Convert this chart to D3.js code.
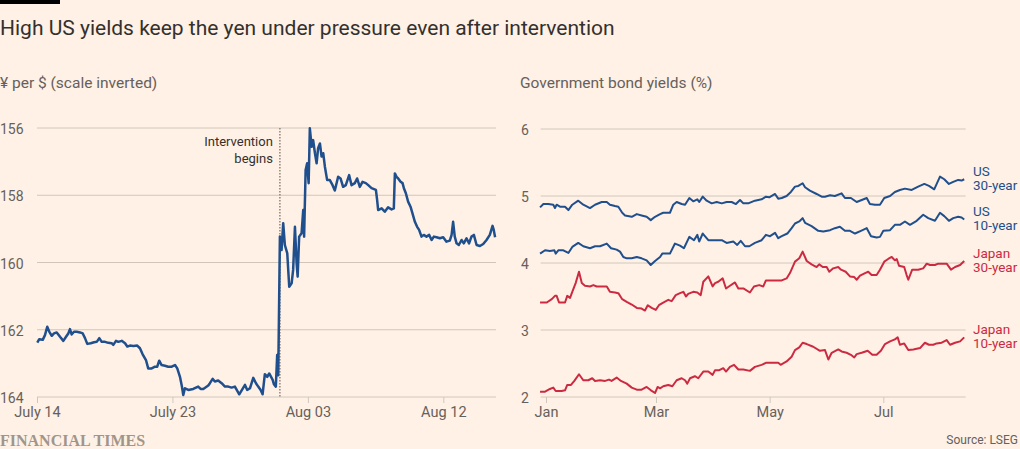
<!DOCTYPE html>
<html><head><meta charset="utf-8">
<script src="https://cdn.jsdelivr.net/npm/d3@7"></script>
<style>
body{margin:0;background:#fff1e5;}
svg{display:block;}
text{font-family:Roboto, "Noto Sans", sans-serif;}
text.ft{font-family:"Liberation Serif","DejaVu Serif",serif;font-weight:bold;}
</style></head><body><svg id="c" width="1020" height="449"></svg>
<script>
// ---------- DATA ----------
const titleText = "High US yields keep the yen under pressure even after intervention";
const leftSubtitle = "¥ per $ (scale inverted)";
const rightSubtitle = "Government bond yields (%)";
const sourceText = "Source: LSEG";

// Left panel: yen per dollar, time in days since July 14
const fxTicks = [0, 9, 18, 27];
const fxTickLabels = ["July 14", "July 23", "Aug 03", "Aug 12"];
const fxYTicks = [156, 158, 160, 162, 164];
const interventionT = 16.14;
const interventionLabel = ["Intervention", "begins"];
const fxT = [0.02,0.15,0.38,0.53,0.68,0.82,0.98,1.13,1.31,1.53,1.75,1.93,2.08,2.19,2.30,2.46,2.64,2.86,3.04,3.19,3.34,3.57,3.79,3.97,4.14,4.30,4.52,4.74,4.96,5.07,5.25,5.40,5.63,5.85,6.00,6.18,6.40,6.66,6.84,7.02,7.24,7.39,7.62,7.84,7.99,8.12,8.28,8.50,8.72,8.95,9.17,9.32,9.50,9.63,9.72,9.83,10.05,10.38,10.71,10.87,11.05,11.38,11.49,11.67,11.82,12.04,12.27,12.49,12.71,12.93,13.15,13.44,13.66,13.82,13.97,14.15,14.37,14.55,14.70,14.86,14.99,15.14,15.30,15.43,15.66,15.74,15.87,15.96,16.03,16.09,16.14,16.25,16.36,16.47,16.63,16.76,16.92,17.02,17.14,17.25,17.32,17.42,17.58,17.69,17.75,17.85,17.95,18.05,18.13,18.25,18.35,18.47,18.58,18.68,18.80,18.91,19.02,19.13,19.28,19.46,19.64,19.79,20.01,20.17,20.34,20.52,20.74,20.90,21.12,21.27,21.45,21.63,21.85,22.01,22.23,22.52,22.60,22.67,22.90,23.11,23.33,23.56,23.71,23.78,23.89,24.00,24.16,24.29,24.38,24.51,24.66,24.82,24.95,25.11,25.26,25.39,25.55,25.70,25.88,26.06,26.22,26.37,26.55,26.77,26.99,27.21,27.43,27.55,27.65,27.76,27.88,28.03,28.21,28.36,28.54,28.71,28.87,29.03,29.21,29.43,29.65,29.87,30.09,30.27,30.35,30.44];
const fxV = [162.38,162.28,162.30,162.16,161.91,162.06,162.18,162.11,162.08,162.21,162.33,162.21,162.11,161.98,162.14,162.06,162.06,162.08,162.11,162.25,162.42,162.40,162.37,162.36,162.25,162.36,162.36,162.39,162.40,162.45,162.33,162.36,162.33,162.40,162.50,162.47,162.48,162.47,162.55,162.73,162.90,163.15,163.15,163.10,163.10,162.92,163.05,163.07,163.10,163.10,163.05,163.15,163.40,163.69,163.94,163.74,163.79,163.76,163.69,163.76,163.76,163.66,163.59,163.46,163.54,163.51,163.59,163.69,163.69,163.72,163.69,163.92,163.76,163.64,163.79,163.74,163.43,163.59,163.69,163.79,163.92,163.32,163.40,163.30,163.49,163.62,163.69,162.75,163.35,161.12,159.23,159.63,158.83,159.48,159.73,160.72,160.62,160.22,158.94,160.02,160.42,159.23,159.13,158.44,159.23,157.25,157.05,157.64,156.01,156.56,156.36,156.75,157.05,156.60,156.46,156.85,156.75,157.15,157.55,157.55,157.70,157.86,157.45,157.50,157.75,157.70,157.40,157.70,157.64,157.50,157.75,157.60,157.64,157.70,157.79,157.84,158.14,158.44,158.39,158.49,158.36,158.42,158.39,157.35,157.45,157.50,157.60,157.64,157.79,157.94,158.19,158.34,158.54,158.79,158.94,159.03,159.23,159.18,159.23,159.18,159.33,159.23,159.25,159.28,159.25,159.38,159.35,159.18,158.79,159.23,159.43,159.48,159.33,159.43,159.28,159.43,159.23,159.18,159.48,159.51,159.45,159.33,159.18,158.91,159.03,159.25];

// Right panel: bond yields, [days since Jan 1, yield %]
const bondYTicks = [2, 3, 4, 5, 6];
const seriesNames = [["US", "30-year"], ["US", "10-year"], ["Japan", "30-year"], ["Japan", "10-year"]];
const us30 = [[-3.2,4.83],[-1.4,4.88],[1.2,4.88],[3.9,4.87],[4.8,4.82],[5.7,4.87],[7.5,4.84],[10.2,4.84],[12.0,4.79],[14.1,4.87],[17.3,4.93],[20.0,4.87],[23.6,4.82],[26.3,4.87],[29.9,4.91],[32.6,4.91],[34.3,4.87],[37.0,4.85],[38.8,4.84],[40.9,4.75],[42.4,4.71],[46.0,4.69],[48.7,4.73],[51.3,4.71],[54.0,4.69],[56.2,4.64],[58.5,4.69],[61.2,4.73],[62.9,4.75],[66.5,4.75],[68.3,4.87],[70.1,4.91],[72.8,4.88],[74.6,4.87],[76.9,4.97],[79.0,4.92],[81.2,4.95],[82.2,4.91],[84.1,4.99],[86.2,4.93],[88.9,4.89],[91.6,4.91],[94.3,4.89],[96.9,4.91],[99.6,4.91],[101.9,4.88],[104.1,4.94],[105.9,4.89],[108.5,4.89],[112.1,4.93],[115.7,4.95],[118.0,4.99],[119.8,4.98],[122.9,5.03],[124.6,4.96],[126.5,4.97],[129.1,5.00],[131.4,5.06],[133.6,5.14],[135.4,5.15],[137.7,5.19],[139.0,5.13],[141.6,5.08],[145.2,5.03],[147.9,4.99],[149.7,4.99],[152.4,5.01],[155.0,5.00],[158.6,5.04],[160.4,4.97],[163.6,4.97],[166.7,4.91],[169.4,4.94],[172.1,4.97],[173.8,4.88],[176.5,4.87],[179.2,4.87],[181.5,4.97],[184.6,5.00],[187.2,5.06],[189.9,5.09],[192.6,5.11],[196.2,5.09],[199.7,5.14],[203.0,5.18],[205.5,5.15],[208.3,5.10],[211.4,5.29],[213.7,5.25],[216.2,5.18],[218.5,5.21],[221.2,5.24],[223.0,5.23],[224.4,5.25]];
const us10 = [[-3.2,4.14],[-0.5,4.19],[2.1,4.18],[4.5,4.19],[5.2,4.14],[6.6,4.19],[9.3,4.19],[12.0,4.15],[14.1,4.24],[17.3,4.30],[20.0,4.25],[23.6,4.22],[26.3,4.25],[29.0,4.25],[32.6,4.29],[34.9,4.22],[37.9,4.20],[39.7,4.17],[41.5,4.09],[43.3,4.07],[46.0,4.07],[48.7,4.09],[51.3,4.07],[54.0,4.04],[56.2,3.97],[58.5,4.03],[61.2,4.09],[62.4,4.14],[66.5,4.14],[69.2,4.29],[71.9,4.26],[74.0,4.22],[76.9,4.39],[79.4,4.34],[81.2,4.42],[82.2,4.32],[84.1,4.44],[87.1,4.34],[89.8,4.34],[94.3,4.34],[96.9,4.30],[100.5,4.32],[102.6,4.27],[104.5,4.33],[106.8,4.25],[109.1,4.25],[112.1,4.30],[115.7,4.34],[118.0,4.42],[120.2,4.40],[122.9,4.45],[124.6,4.37],[126.5,4.40],[129.5,4.44],[131.8,4.52],[133.6,4.59],[135.9,4.62],[137.7,4.67],[139.0,4.60],[142.5,4.55],[146.1,4.48],[148.8,4.47],[152.4,4.49],[155.0,4.52],[157.7,4.54],[160.4,4.48],[163.1,4.48],[165.8,4.44],[169.0,4.48],[172.1,4.52],[174.4,4.40],[177.4,4.38],[179.2,4.39],[181.0,4.48],[184.6,4.49],[187.2,4.57],[189.9,4.57],[192.6,4.62],[195.3,4.57],[198.9,4.63],[202.4,4.72],[205.1,4.67],[208.7,4.63],[211.4,4.75],[213.7,4.70],[216.2,4.63],[218.5,4.67],[221.2,4.69],[223.0,4.68],[224.4,4.65]];
const jp30 = [[-3.2,3.41],[0.4,3.41],[3.1,3.46],[4.8,3.51],[5.7,3.51],[7.0,3.41],[10.2,3.41],[11.4,3.51],[12.9,3.48],[14.1,3.57],[15.9,3.70],[17.7,3.87],[19.2,3.70],[20.9,3.66],[23.6,3.65],[25.4,3.67],[27.2,3.65],[29.9,3.65],[32.6,3.65],[34.3,3.57],[37.0,3.56],[38.8,3.55],[40.9,3.46],[43.3,3.42],[46.0,3.38],[48.7,3.33],[51.3,3.32],[53.1,3.29],[54.6,3.37],[56.7,3.33],[58.9,3.30],[60.6,3.37],[62.9,3.41],[65.6,3.45],[67.4,3.43],[69.6,3.52],[71.9,3.55],[73.7,3.57],[75.1,3.50],[76.3,3.54],[79.0,3.57],[81.2,3.56],[83.0,3.52],[84.4,3.72],[87.1,3.80],[89.4,3.65],[90.7,3.70],[92.4,3.72],[94.8,3.77],[96.6,3.62],[98.7,3.66],[101.4,3.71],[103.2,3.62],[105.9,3.62],[109.4,3.56],[111.6,3.65],[114.4,3.67],[116.6,3.65],[118.0,3.74],[121.1,3.74],[126.5,3.74],[129.1,3.77],[130.9,3.85],[133.6,4.02],[135.9,4.07],[137.7,4.17],[139.9,4.03],[142.5,3.98],[145.2,3.94],[146.6,3.98],[148.5,3.94],[150.6,3.94],[152.0,3.87],[154.1,3.92],[156.8,3.94],[158.3,3.90],[160.8,3.87],[163.1,3.80],[165.4,3.79],[166.7,3.75],[168.5,3.81],[171.2,3.85],[172.9,3.87],[174.7,3.82],[177.4,3.82],[179.2,3.90],[181.5,4.02],[183.6,4.06],[185.5,4.09],[187.2,4.04],[188.2,4.06],[189.4,3.96],[192.2,3.94],[193.5,3.82],[194.4,3.75],[196.5,3.90],[199.7,3.90],[202.4,3.92],[204.3,3.99],[206.0,3.97],[208.7,3.97],[210.5,3.99],[212.3,3.99],[215.0,3.99],[217.3,3.90],[219.5,3.94],[222.2,3.97],[224.4,4.03]];
const jp10 = [[-3.2,2.08],[-0.5,2.08],[2.1,2.12],[3.9,2.14],[5.2,2.09],[8.4,2.09],[10.2,2.10],[11.4,2.18],[13.4,2.18],[15.2,2.24],[17.7,2.34],[20.0,2.25],[22.7,2.25],[24.8,2.28],[26.3,2.24],[29.0,2.25],[31.7,2.24],[33.8,2.26],[35.2,2.24],[37.9,2.29],[40.2,2.24],[43.3,2.20],[46.0,2.14],[48.7,2.11],[51.3,2.11],[54.0,2.15],[56.3,2.10],[58.5,2.06],[59.9,2.15],[61.2,2.13],[62.9,2.16],[65.6,2.18],[67.8,2.16],[70.1,2.25],[72.8,2.28],[74.6,2.25],[75.8,2.20],[77.3,2.28],[79.9,2.31],[81.7,2.28],[84.4,2.38],[87.1,2.38],[89.4,2.33],[90.7,2.40],[93.0,2.40],[95.1,2.43],[96.6,2.38],[98.7,2.45],[100.9,2.48],[103.2,2.41],[105.9,2.41],[109.4,2.39],[112.1,2.45],[115.7,2.48],[118.0,2.51],[121.1,2.51],[124.6,2.51],[125.9,2.48],[129.1,2.53],[131.8,2.60],[133.6,2.70],[135.9,2.74],[137.7,2.81],[139.9,2.79],[143.4,2.75],[147.0,2.69],[149.7,2.70],[151.5,2.56],[153.3,2.66],[156.8,2.71],[158.6,2.68],[161.3,2.66],[163.6,2.63],[165.4,2.59],[166.7,2.64],[169.4,2.66],[172.6,2.69],[175.1,2.63],[177.4,2.63],[179.7,2.69],[181.9,2.79],[184.6,2.83],[187.2,2.86],[188.7,2.89],[189.9,2.78],[192.2,2.80],[194.4,2.70],[197.1,2.71],[200.7,2.73],[203.3,2.81],[205.5,2.78],[207.8,2.78],[209.6,2.80],[212.3,2.81],[215.0,2.85],[216.8,2.78],[219.5,2.81],[222.2,2.83],[224.4,2.89]];

// ---------- STYLE ----------
const BLUE = "#1f4f8d", RED = "#cc2a41", GRID = "#d2c6bc", TXT = "#33302e", TICK = "#66605c";

const svg = d3.select("#c");
svg.append("rect").attr("width", 1020).attr("height", 449).attr("fill", "#fff1e5");
svg.append("rect").attr("x", 0).attr("y", 0).attr("width", 60).attr("height", 4).attr("fill", "#000");

svg.append("text").attr("x", 0).attr("y", 35).attr("font-size", 21).attr("fill", TXT).text(titleText);
svg.append("text").attr("x", 0).attr("y", 88).attr("font-size", 15.5).attr("fill", TICK).text(leftSubtitle);
svg.append("text").attr("x", 520).attr("y", 88).attr("font-size", 15.5).attr("fill", TICK).text(rightSubtitle);

// ---------- LEFT PANEL ----------
const xL = d3.scaleLinear().domain([0, 30.5]).range([37, 496]);
const yL = d3.scaleLinear().domain([156, 164]).range([128, 397]);

const gL = svg.append("g");
gL.selectAll("line.grid").data(fxYTicks).join("line")
  .attr("x1", xL(0)).attr("x2", xL(30.5))
  .attr("y1", d => yL(d)).attr("y2", d => yL(d))
  .attr("stroke", GRID).attr("stroke-width", 1);
gL.selectAll("text.yl").data(fxYTicks).join("text")
  .attr("x", 0).attr("y", d => yL(d) + 6).attr("font-size", 14).attr("fill", TICK).text(d => d);

const axL = d3.axisBottom(xL).tickValues(fxTicks).tickFormat((d, i) => fxTickLabels[i]).tickSize(6).tickPadding(4);
const gAxL = gL.append("g").attr("transform", `translate(0,${yL(164)})`).call(axL);
gAxL.select(".domain").remove();
gAxL.selectAll("line").attr("stroke", GRID);
gAxL.selectAll("text").attr("font-size", 14.5).attr("fill", TICK).style("font-family", "Roboto, sans-serif");

// intervention marker
gL.append("line").attr("x1", xL(interventionT)).attr("x2", xL(interventionT))
  .attr("y1", yL(156)).attr("y2", yL(164))
  .attr("stroke", "#8f857d").attr("stroke-width", 1.5).attr("stroke-dasharray", "1.5,1.5");
gL.selectAll("text.int").data(interventionLabel).join("text")
  .attr("x", xL(interventionT) - 7).attr("y", (d, i) => 146 + i * 17)
  .attr("text-anchor", "end").attr("font-size", 13).attr("fill", TXT).text(d => d);

const fxData = fxT.map((t, i) => [t, fxV[i]]);
gL.append("path").datum(fxData)
  .attr("d", d3.line().x(d => xL(d[0])).y(d => yL(d[1])))
  .attr("fill", "none").attr("stroke", BLUE).attr("stroke-width", 2.5).attr("stroke-linejoin", "round");

// ---------- RIGHT PANEL ----------
const jan1 = new Date(2023, 0, 1);
const toDate = d => new Date(jan1.getTime() + d * 864e5);
const xR = d3.scaleTime().domain([toDate(-2.85), toDate(225.2)]).range([540.7, 965.7]);
const yR = d3.scaleLinear().domain([2, 6]).range([397, 129]);

const gR = svg.append("g");
gR.selectAll("line.grid").data(bondYTicks).join("line")
  .attr("x1", xR.range()[0]).attr("x2", xR.range()[1])
  .attr("y1", d => yR(d)).attr("y2", d => yR(d))
  .attr("stroke", GRID).attr("stroke-width", 1);
gR.selectAll("text.yr").data(bondYTicks).join("text")
  .attr("x", 521).attr("y", d => yR(d) + 6).attr("font-size", 14).attr("fill", TICK).text(d => d);

const axR = d3.axisBottom(xR).ticks(d3.timeMonth.every(2)).tickFormat(d3.timeFormat("%b")).tickSize(6).tickPadding(4);
const gAxR = gR.append("g").attr("transform", `translate(0,${yR(2)})`).call(axR);
gAxR.select(".domain").remove();
gAxR.selectAll("line").attr("stroke", GRID);
gAxR.selectAll("text").attr("font-size", 14.5).attr("fill", TICK).style("font-family", "Roboto, sans-serif");

const series = [us30, us10, jp30, jp10];
const colors = [BLUE, BLUE, RED, RED];
const lineR = d3.line().x(d => xR(toDate(d[0]))).y(d => yR(d[1]));
series.forEach((s, i) => {
  gR.append("path").datum(s).attr("d", lineR)
    .attr("fill", "none").attr("stroke", colors[i]).attr("stroke-width", 2).attr("stroke-linejoin", "round");
  const last = s[s.length - 1];
  const ly = yR(last[1]);
  const t = gR.append("text").attr("x", 973).attr("font-size", 13.5).attr("fill", colors[i]);
  t.append("tspan").attr("x", 973).attr("y", ly - 3).text(seriesNames[i][0]);
  t.append("tspan").attr("x", 973).attr("y", ly + 11).text(seriesNames[i][1]);
});

// ---------- FOOTER ----------
svg.append("text").attr("class", "ft").attr("x", 0).attr("y", 446).attr("font-size", 16)
  .attr("fill", "#a0958b").text("FINANCIAL TIMES");
svg.append("text").attr("x", 1018).attr("y", 444).attr("text-anchor", "end").attr("font-size", 12)
  .attr("fill", TICK).text(sourceText);
</script></body></html>
